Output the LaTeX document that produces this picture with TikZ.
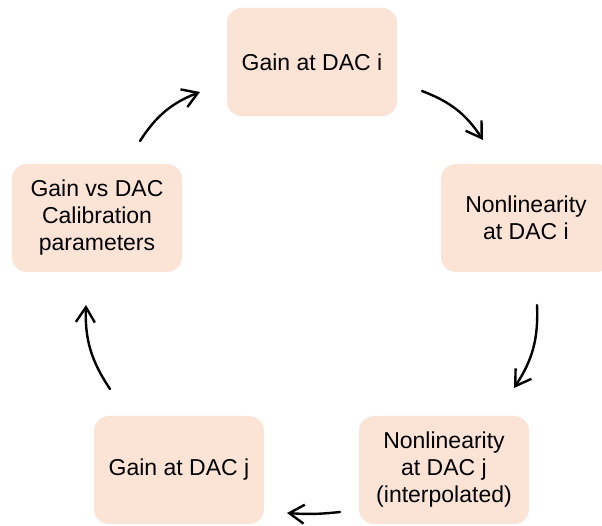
\documentclass[tikz,border=0pt]{standalone}
\usepackage{fontspec}
\setmainfont{Liberation Sans}
\usetikzlibrary{arrows.meta}
\definecolor{peach}{HTML}{FBE3D6}
\tikzset{
  stage/.style={fill=peach, rounded corners=15pt, minimum width=170pt, minimum height=108pt,
    align=center, font=\fontsize{23}{27}\selectfont, inner sep=0pt},
  flow/.style={line width=2.4pt, line cap=round, -{Straight Barb[length=15pt,width=19pt,line width=2.4pt]}}
}
\newcommand{\idx}[1]{{\rmfamily #1}}
\begin{document}
\begin{tikzpicture}[x=1pt,y=1pt]
\useasboundingbox (0,0) rectangle (602,526);
\clip (0,0) rectangle (602,526);
\node[stage] (gaini) at (312,464) {Gain at DAC \idx{i}};
\node[stage] (nonlini) at (526,308) {Nonlinearity\\at DAC \idx{i}};
\node[stage] (nonlinj) at (444,56) {Nonlinearity\\at DAC \idx{j}\\(interpolated)};
\node[stage] (gainj) at (179,56) {Gain at DAC \idx{j}};
\node[stage] (calib) at (97,308) {Gain vs DAC\\Calibration\\parameters};
% arrow ends
\coordinate (a1) at (140,385);
\coordinate (b1) at (200,434);
\coordinate (a2) at (422,435);
\coordinate (b2) at (483,386);
\coordinate (a3) at (537,221);
\coordinate (b3) at (514,138);
\coordinate (a4) at (340,14);
\coordinate (b4) at (287,13);
\coordinate (a5) at (110,137);
\coordinate (b5) at (86,221);
\draw[flow] (a1) to[bend left=18] (b1);
\draw[flow] (a2) to[bend left=18] (b2);
\draw[flow] (a3) to[bend left=18] (b3);
\draw[flow] (a4) to[bend left=5] (b4);
\draw[flow] (a5) to[bend left=18] (b5);
\end{tikzpicture}
\end{document}
